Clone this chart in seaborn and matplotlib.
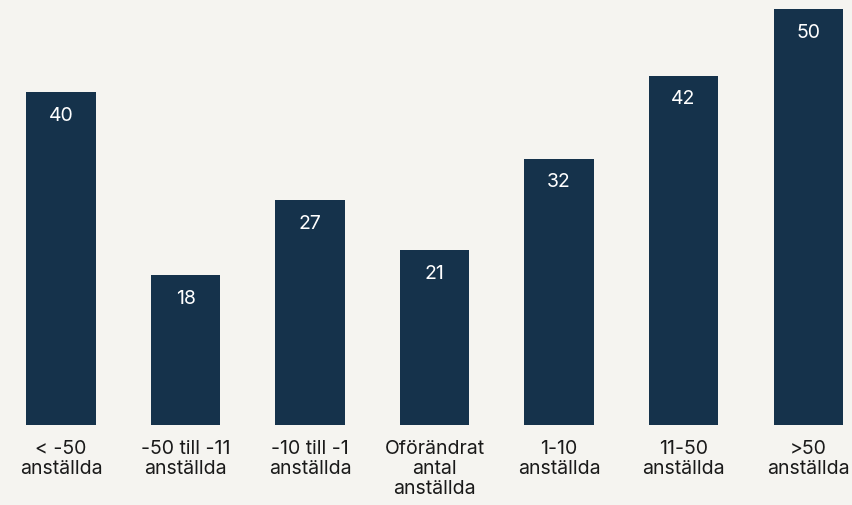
import matplotlib
matplotlib.use("Agg")
import matplotlib.pyplot as plt
import seaborn as sns
import pandas as pd

categories = ["< -50\nanställda", "-50 till -11\nanställda", "-10 till -1\nanställda",
              "Oförändrat\nantal\nanställda", "1-10\nanställda", "11-50\nanställda", ">50\nanställda"]
values = [40, 18, 27, 21, 32, 42, 50]

sns.set_theme(style="white")
plt.rcParams['font.family'] = ['Inter', 'DejaVu Sans']

bg = "#f5f4f0"
bar_color = "#15324b"

fig = plt.figure(figsize=(8.53, 5.05), dpi=100, facecolor=bg)
ax = fig.add_axes([0, 80/505, 1, 425/505])
ax.set_facecolor(bg)

df = pd.DataFrame({"cat": categories, "val": values})
sns.barplot(data=df, x="cat", y="val", color=bar_color, width=0.555, saturation=1,
            linewidth=0, edgecolor=bar_color, ax=ax)

ax.set_xlim(-0.49, 6.361)
ax.set_ylim(0, 51.08)
for i, v in enumerate(values):
    ax.text(i, v - 2.85, str(v), ha="center", va="center", color="white", fontsize=14)

ax.set_xlabel("")
ax.set_ylabel("")
ax.set_yticks([])
ax.tick_params(axis="x", length=0, pad=11, labelsize=14, labelcolor="#1a1a1a")
for lab in ax.get_xticklabels():
    lab.set_linespacing(1.12)
for s in ax.spines.values():
    s.set_visible(False)

fig.savefig("out.png", dpi=100, facecolor=bg)
